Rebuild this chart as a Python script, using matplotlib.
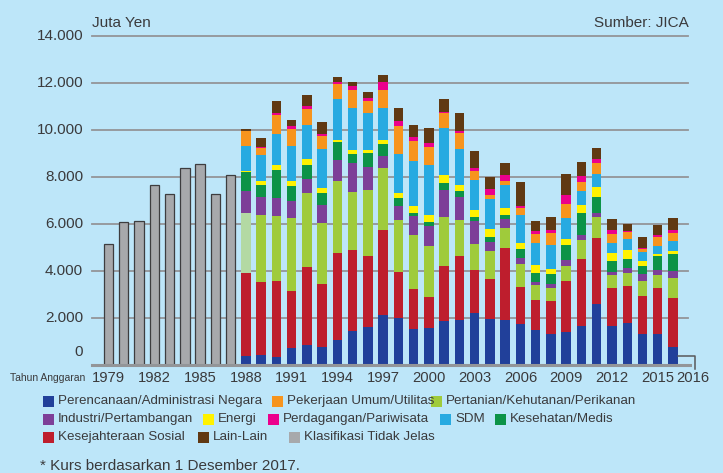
import matplotlib
matplotlib.use("Agg")
import matplotlib.pyplot as plt
from matplotlib.patches import Rectangle
from matplotlib import font_manager

# ---------------- data ----------------
years = list(range(1979, 2017))
years_unclassified = list(range(1979, 1988))
unclassified = [5140, 6070, 6110, 7650, 7260, 8370, 8540, 7260, 8060]

years_classified = list(range(1988, 2017))
perencanaan = [400, 425, 340, 740, 850, 770, 1060, 1450, 1620, 2130, 2010, 1530, 1590, 1870, 1930,
               2210, 1960, 1930, 1760, 1500, 1320, 1400, 1660, 2600, 1660, 1790, 1320, 1320, 770]
kesejahteraan = [3530, 3110, 3230, 2410, 3320, 2680, 3700, 3450, 3020, 3620, 1940, 1700, 1280, 2360, 2720,
                 1840, 1700, 3060, 1560, 1280, 1400, 2170, 2850, 2810, 1620, 1580, 1620, 1960, 2090]
pertanian = [2540, 2850, 2770, 3110, 3150, 2600, 3060, 2470, 2810, 2640, 2210, 2300, 2210, 2070, 1530,
             1110, 1190, 850, 990, 620, 550, 640, 810, 890, 550, 550, 640, 550, 850]
industri = [910, 740, 780, 720, 570, 770, 890, 1200, 980, 510, 610, 820, 850, 1160, 970,
            970, 400, 380, 260, 140, 170, 260, 210, 170, 130, 210, 300, 210, 300]
kesehatan = [840, 540, 1180, 610, 620, 510, 770, 410, 600, 510, 340, 130, 170, 280, 230,
             180, 200, 170, 380, 380, 430, 640, 940, 680, 470, 380, 340, 600, 720]
energi = [40, 170, 210, 240, 260, 210, 90, 170, 90, 170, 200, 260, 280, 340, 260,
          280, 340, 300, 240, 330, 210, 260, 340, 430, 340, 380, 210, 90, 130]
sdm = [1060, 1110, 1320, 1490, 1420, 1660, 1750, 1790, 1580, 1360, 1660, 1920, 2130, 2010, 1560,
       1290, 1250, 970, 1190, 940, 1020, 890, 600, 550, 430, 470, 380, 340, 430]
pekerjaan = [610, 300, 810, 720, 710, 550, 640, 770, 510, 770, 1210, 880, 740, 620, 650,
             370, 170, 170, 310, 400, 510, 600, 380, 470, 380, 300, 130, 380, 340]
perdagangan = [0, 40, 60, 140, 90, 90, 90, 170, 130, 340, 200, 170, 170, 60, 110,
               140, 260, 260, 90, 90, 130, 380, 260, 170, 170, 40, 40, 90, 130]
lain = [110, 380, 540, 240, 470, 510, 210, 170, 260, 300, 550, 510, 670, 540, 740,
        710, 540, 480, 1010, 450, 550, 890, 600, 470, 470, 300, 470, 430, 470]

yticks = [0, 2000, 4000, 6000, 8000, 10000, 12000, 14000]
ytick_labels = ["0", "2.000", "4.000", "6.000", "8.000", "10.000", "12.000", "14.000"]
xlabel_years = [1979, 1982, 1985, 1988, 1991, 1994, 1997, 2000, 2003, 2006, 2009, 2012, 2015]

series = [
    ("Perencanaan/Administrasi Negara", perencanaan, "#21409a"),
    ("Kesejahteraan Sosial", kesejahteraan, "#be1e2d"),
    ("Pertanian/Kehutanan/Perikanan", pertanian, "#9fcb3b"),
    ("Industri/Pertambangan", industri, "#7d3f98"),
    ("Kesehatan/Medis", kesehatan, "#0c9347"),
    ("Energi", energi, "#fff200"),
    ("SDM", sdm, "#27aae1"),
    ("Pekerjaan Umum/Utilitas", pekerjaan, "#f7941d"),
    ("Perdagangan/Pariwisata", perdagangan, "#ec008c"),
    ("Lain-Lain", lain, "#603913"),
]
colors = {name: c for name, _, c in series}
gray = "#a7a9ac"

# ---------------- fonts ----------------
available = {f.name for f in font_manager.fontManager.ttflist}
REG = ["Liberation Sans", "DejaVu Sans"]
if "Liberation Sans Narrow" in available:
    NAR = ["Liberation Sans Narrow", "Liberation Sans"]
    nar_scale = 1.0
else:
    NAR = REG
    nar_scale = 0.85
txt = "#3a3a3c"

# ---------------- figure ----------------
W, H = 723, 473
bg = "#bde6f9"
fig = plt.figure(figsize=(W / 100, H / 100), dpi=100, facecolor=bg)

def fx(px):
    return px / W

def fy(py):
    return 1 - py / H

ax_left, ax_right, ax_top, ax_bot = 92, 690, 35.7, 365
ax = fig.add_axes([fx(ax_left), fy(ax_bot), fx(ax_right - ax_left), fy(ax_top) - fy(ax_bot)])
ax.set_facecolor("none")
for s in ax.spines.values():
    s.set_visible(False)
ax.set_xticks([])
ax.set_yticks([])

step = 15.26
x0 = 1979 - (108.5 - ax_left) / step
x1 = 2016 + (ax_right - 673) / step
ax.set_xlim(x0, x1)
ax.set_ylim(0, 14000)

# gridlines
grid_xmax = (688 - ax_left) / (ax_right - ax_left)
for v in yticks[1:]:
    ax.axhline(v, xmin=0, xmax=grid_xmax, color="#939598", lw=1.3, zorder=1, clip_on=False)
ax.axhline(0, xmin=0, xmax=1, color="#939598", lw=2.2, zorder=4, clip_on=False)

bw = 0.62
# unclassified bars
ax.bar(years_unclassified, unclassified, width=bw, color=gray, edgecolor="#3d3d3f",
       linewidth=0.9, zorder=3)

# stacked classified bars
bottom = [0] * len(years_classified)
for name, vals, c in series:
    cols = [c] * len(vals)
    if name.startswith("Pertanian"):
        cols[0] = "#b3d9a3"  # pale segment in 1988
    ax.bar(years_classified, vals, width=bw, bottom=bottom, color=cols, linewidth=0, zorder=3)
    bottom = [b + v for b, v in zip(bottom, vals)]

# y tick labels
ylab_x = (83 - ax_left) / (ax_right - ax_left)
for v, lab in zip(yticks, ytick_labels):
    yv = 550 if v == 0 else v
    ax.text(ylab_x, yv, lab, transform=ax.get_yaxis_transform(), ha="right", va="center",
            fontsize=11, family=REG, color=txt)

# x labels
ylab_pos = (ax_bot - 377.7) / (ax_bot - ax_top)
for yr in xlabel_years:
    ax.text(yr, ylab_pos, str(yr), transform=ax.get_xaxis_transform(), ha="center", va="center",
            fontsize=12.5 * nar_scale, family=NAR, color=txt, clip_on=False)
x2016 = 2016 + (693 - 673) / step
ax.text(x2016, ylab_pos, "2016", transform=ax.get_xaxis_transform(), ha="center", va="center",
        fontsize=12.5 * nar_scale, family=NAR, color=txt, clip_on=False)
# bracket to 2016
bx_a = 2016 + (678 - 673) / step
bx_b = 2016 + (695 - 673) / step
by_a = (ax_bot - 355.7) / (ax_bot - ax_top) * 14000
by_b = (ax_bot - 369.3) / (ax_bot - ax_top) * 14000
ax.plot([bx_a, bx_b, bx_b], [by_a, by_a, by_b], color="#58595b", lw=1.1, clip_on=False, zorder=5)

fig.text(fx(85), fy(378), "Tahun Anggaran", ha="right", va="center", fontsize=8.8 * nar_scale,
         family=NAR, color=txt)

# header texts
fig.text(fx(92), fy(22.7), "Juta Yen", ha="left", va="center", fontsize=11, family=REG, color=txt)
fig.text(fx(689), fy(22.7), "Sumber: JICA", ha="right", va="center", fontsize=11, family=REG, color=txt)

# legend (manual)
legend_items = [
    (43, 401, "Perencanaan/Administrasi Negara"),
    (272, 401, "Pekerjaan Umum/Utilitas"),
    (431, 401, "Pertanian/Kehutanan/Perikanan"),
    (43, 419, "Industri/Pertambangan"),
    (203, 419, "Energi"),
    (268, 419, "Perdagangan/Pariwisata"),
    (440, 419, "SDM"),
    (495, 419, "Kesehatan/Medis"),
    (43, 437, "Kesejahteraan Sosial"),
    (198, 437, "Lain-Lain"),
    (289, 437, "Klasifikasi Tidak Jelas"),
]
for px, py, name in legend_items:
    c = colors.get(name, gray)
    fig.add_artist(Rectangle((fx(px), fy(py + 5.5)), fx(11), 11 / H, transform=fig.transFigure,
                             facecolor=c, edgecolor="none"))
    fig.text(fx(px + 15), fy(py), name, ha="left", va="center", fontsize=9.6, family=REG, color=txt)

fig.text(fx(40), fy(466), "* Kurs berdasarkan 1 Desember 2017.", ha="left", va="center",
         fontsize=11, family=REG, color=txt)

fig.savefig("out.png", dpi=100, facecolor=bg)
